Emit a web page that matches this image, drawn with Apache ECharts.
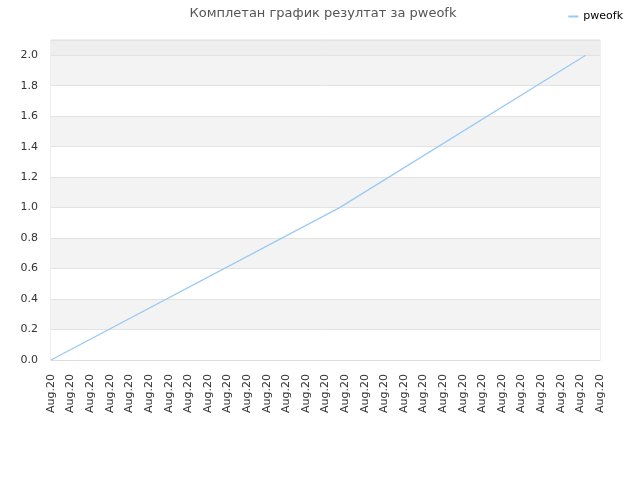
<!DOCTYPE html>
<html><head><meta charset="utf-8">
<script src="https://cdn.jsdelivr.net/npm/echarts@6/dist/echarts.min.js"></script>
<style>html,body{margin:0;padding:0;background:#fff}#c{width:640px;height:480px}</style>
</head><body><div id="c"></div>
<script>
var titleText = 'Комплетан график резултат за pweofk';
var seriesName = 'pweofk';
var xTickLabel = 'Aug.20';
var xValues = [0, 14.72, 27.27];
var yValues = [0, 1.0, 2.0];
var yTicks = [0, 0.2, 0.4, 0.6, 0.8, 1.0, 1.2, 1.4, 1.6, 1.8, 2.0];

var bandColors = ['#ffffff','#f3f3f3','#ffffff','#f3f3f3','#ffffff','#f3f3f3','#ffffff','#f3f3f3','#ffffff','#f3f3f3','#eeeeee'];

var chart = echarts.init(document.getElementById('c'));
chart.setOption({
  animation: false,
  title: {
    text: titleText, left: 318, top: 2, textAlign: 'center',
    textStyle: {fontFamily: 'DejaVu Sans', fontSize: 13, fontWeight: 'normal', color: '#555'}
  },
  legend: {
    right: 12, top: 6, itemWidth: 10, itemHeight: 2, icon: 'rect', itemGap: 10,
    textStyle: {fontFamily: 'DejaVu Sans', fontSize: 11, color: '#000'},
    data: [seriesName]
  },
  grid: {left: 51, top: 40, right: 40, bottom: 120, show: true, borderColor: '#dddddd', borderWidth: 1},
  xAxis: {
    type: 'value', min: 0, max: 28, interval: 1,
    axisLine: {show: true, lineStyle: {color: '#dddddd'}},
    axisTick: {show: false},
    splitLine: {show: false},
    axisLabel: {rotate: 90, formatter: function(){return xTickLabel;}, color: '#333', fontFamily: 'DejaVu Sans', fontSize: 11, margin: 14}
  },
  yAxis: {
    type: 'value', min: 0, max: 2.1, interval: 0.2,
    axisLine: {show: false}, axisTick: {show: false},
    splitLine: {show: true, lineStyle: {color: '#e2e2e2'}},
    splitArea: {show: true, areaStyle: {color: bandColors}},
    axisLabel: {
      showMaxLabel: false, color: '#333', fontFamily: 'DejaVu Sans', fontSize: 11, margin: 13,
      formatter: function(v){ return yTicks.indexOf(Math.round(v*10)/10) >= 0 ? v.toFixed(1) : ''; }
    }
  },
  series: [{
    name: seriesName, type: 'line', showSymbol: false, symbol: 'none',
    lineStyle: {color: '#99c9f5', width: 1.3}, itemStyle: {color: '#99c9f5'},
    data: xValues.map(function(x, i){ return [x, yValues[i]]; })
  }]
});
</script></body></html>
